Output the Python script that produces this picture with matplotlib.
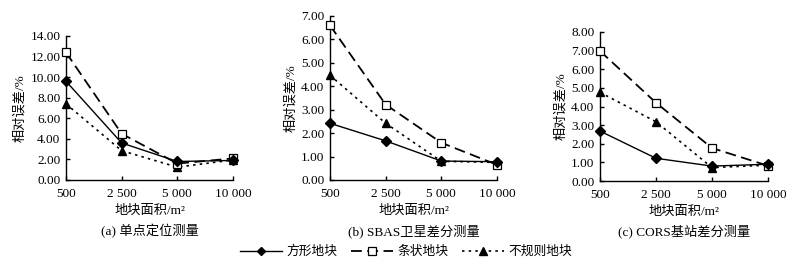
import matplotlib
matplotlib.use("Agg")
import matplotlib.pyplot as plt
from matplotlib.ticker import FormatStrFormatter

plt.rcParams['font.family'] = ['Liberation Serif', 'Noto Sans CJK SC']

categories = ['500', '2 500', '5 000', '10 000']
series_names = ['方形地块', '条状地块', '不规则地块']

a_square = [9.6, 3.6, 1.8, 1.9]
a_strip = [12.4, 4.5, 1.6, 2.1]
a_irregular = [7.4, 2.85, 1.25, 1.95]

b_square = [2.42, 1.67, 0.81, 0.78]
b_strip = [6.6, 3.22, 1.59, 0.65]
b_irregular = [4.47, 2.42, 0.8, 0.75]

c_square = [2.68, 1.22, 0.8, 0.9]
c_strip = [6.98, 4.2, 1.77, 0.82]
c_irregular = [4.76, 3.18, 0.72, 0.85]

titles = ['(a) 单点定位测量', '(b) SBAS卫星差分测量', '(c) CORS基站差分测量']
ymaxes = [14, 7, 8]
ysteps = [2, 1, 1]

panels = [
    (a_square, a_strip, a_irregular),
    (b_square, b_strip, b_irregular),
    (c_square, c_strip, c_irregular),
]

rects = [
    [66/798, 1-180/267, (233-66)/798, (180-36)/267],
    [330/798, 1-180/267, (497-330)/798, (180-16)/267],
    [600/798, 1-181/267, (768-600)/798, (181-32)/267],
]

fig = plt.figure(figsize=(7.98, 2.67), dpi=100)
styles = [
    dict(color='black', lw=1.0, ls='-', marker='D', ms=5, mfc='black', mec='black'),
    dict(color='black', lw=1.3, ls=(0, (6, 3)), marker='s', ms=6, mfc='white', mec='black', mew=0.9),
    dict(color='black', lw=1.2, ls=(0, (1.5, 2.5)), marker='^', ms=6, mfc='black', mec='black'),
]
handles = []
for i, (data, rect) in enumerate(zip(panels, rects)):
    ax = fig.add_axes(rect)
    x = list(range(len(categories)))
    order = [2, 1, 0]
    hs = {}
    for k in order:
        h, = ax.plot(x, data[k], clip_on=False, zorder=3, **styles[k])
        hs[k] = h
    if i == 0:
        handles = [hs[0], hs[1], hs[2]]
    ax.set_xlim(0, 3)
    ax.set_ylim(0, ymaxes[i])
    yt = [ysteps[i] * j for j in range(int(ymaxes[i] / ysteps[i]) + 1)]
    ax.set_yticks(yt)
    ax.yaxis.set_major_formatter(FormatStrFormatter('%.2f'))
    ax.set_xticks(x)
    ax.set_xticklabels(categories)
    for s in ['top', 'right']:
        ax.spines[s].set_visible(False)
    for s in ['left', 'bottom']:
        ax.spines[s].set_linewidth(1.0)
    ax.tick_params(direction='in', length=3, width=1.0, labelsize=9.5, pad=4)
    ax.tick_params(axis='x', pad=6)
    ax.set_ylabel('相对误差/%', fontsize=9.5, labelpad=3)
    ax.set_xlabel('地块面积/m²', fontsize=9.5, labelpad=3)
    cx = rect[0] + rect[2] / 2
    fig.text(cx, 1 - 231/267, titles[i], ha='center', va='center', fontsize=9.5)

fig.legend(handles, series_names, loc='center', bbox_to_anchor=(406/798, 1 - 252/267), ncol=3,
           frameon=False, fontsize=9.2, handlelength=3.3, columnspacing=1.1, handletextpad=0.3,
           markerscale=0.85)

fig.savefig('out.png', dpi=100)
